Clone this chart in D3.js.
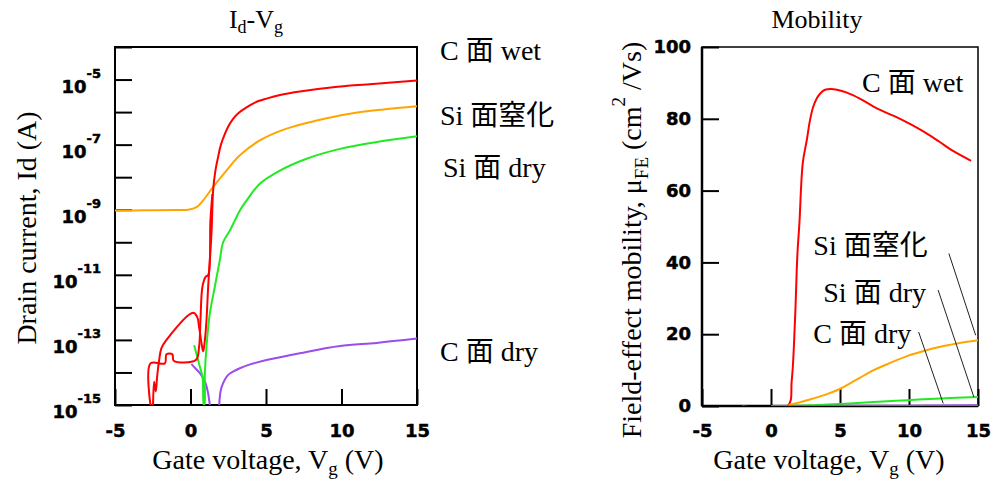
<!DOCTYPE html>
<html>
<head>
<meta charset="utf-8">
<script src="https://cdn.jsdelivr.net/npm/d3@7"></script>
<style>
  body { margin: 0; background: #fff; }
  .serif { font-family: "Liberation Serif", "Noto Sans CJK JP", serif; fill: #000; }
  .num { font-family: "DejaVu Sans", sans-serif; font-weight: bold; font-size: 18px; fill: #000;
         stroke: #000; stroke-width: 0.5px; }
</style>
</head>
<body>
<div id="chart"></div>
<script>
// gate voltage (V) vs drain current (A)
const idCwet = [
  [-2.48, 1e-15], [-2.41, 5.2e-15], [-2.30, 2.6e-15], [-2.21, 7.4e-15], [-2.08, 2.3e-14],
  [-1.93, 5.5e-14], [-1.59, 1.0e-13], [0.17, 6.8e-13], [0.44, 5.1e-13], [0.57, 2.5e-13],
  [0.73, 7.8e-14], [0.84, 4.4e-14], [0.95, 9.8e-14], [1.06, 4.1e-13], [1.17, 4.3e-12],
  [1.39, 1.9e-10], [1.5, 4.0e-9], [1.65, 1.6e-8], [1.83, 4.2e-8], [2.0, 9.5e-8],
  [2.27, 2.1e-7], [2.5, 3.6e-7], [2.82, 6.2e-7], [3.2, 9.5e-7], [3.71, 1.4e-6],
  [4.3, 2.0e-6], [5.03, 2.6e-6], [6.0, 3.4e-6], [7.24, 4.3e-6], [9.44, 5.8e-6],
  [11.66, 7.1e-6], [15, 9.3e-6]
];
const idCwetRev = [
  [-2.65, 1e-15], [-2.65, 1.9e-14], [-1.70, 1.9e-14], [-1.59, 3.6e-14], [-1.20, 3.6e-14],
  [-1.11, 2.3e-14], [0.35, 2.4e-14], [0.57, 6.2e-14], [0.66, 4.1e-13], [0.79, 4.3e-12],
  [1.00, 8.7e-12], [1.17, 9.8e-12], [1.32, 4.7e-10], [1.45, 3.0e-9]
];
const idSiNit = [
  [-5, 9.5e-10], [-3, 9.6e-10], [-1, 9.8e-10], [-0.16, 1.0e-9], [0.40, 1.2e-9], [0.84, 1.95e-9],
  [1.50, 5.0e-9], [2.38, 1.6e-8], [3.27, 4.7e-8], [4.59, 1.35e-7], [6.36, 3.1e-7],
  [8.35, 5.5e-7], [10.56, 8.9e-7], [12.78, 1.2e-6], [15, 1.5e-6]
];
const idSiDry = [
  [0.24, 6.9e-14], [0.45, 3.0e-14], [0.62, 1.5e-14], [0.80, 7.0e-15], [0.88, 1e-15],
  [0.92, 1e-15], [0.95, 9.3e-15], [1.06, 6.2e-14], [1.28, 6.5e-13], [1.61, 4.3e-12],
  [1.94, 2.8e-11], [2.16, 1.0e-10], [2.61, 2.3e-10], [2.94, 4.7e-10], [3.27, 9.5e-10],
  [3.71, 1.9e-9], [4.59, 6.3e-9], [5.92, 1.6e-8], [7.69, 3.7e-8], [9.90, 7.4e-8],
  [12.33, 1.2e-7], [15, 1.8e-7]
];
const idCdry = [
  [0.06, 1.8e-14], [0.35, 1.3e-14], [0.62, 9.5e-15], [0.85, 6.5e-15], [1.0, 4.6e-15],
  [1.15, 2.5e-15], [1.28, 1e-15], [1.6, null],
  [1.90, 1e-15], [2.0, 2.8e-15], [2.16, 4.7e-15], [2.4, 7.5e-15], [2.61, 9.3e-15],
  [3.27, 1.35e-14], [4.0, 1.8e-14], [5.03, 2.4e-14], [7.24, 3.9e-14], [9.90, 6.5e-14],
  [12.33, 8.1e-14], [15, 1.1e-13]
];

// gate voltage (V) vs field-effect mobility (cm2/Vs), right panel
const muCwet = [
  [-2.1, 0], [1.2, 0], [1.5, 7], [1.74, 24], [1.91, 42], [2.06, 51], [2.3, 67.6], [2.59, 74],
  [2.83, 79.7], [3.05, 83.2], [3.32, 85.7], [3.6, 87.2], [3.92, 88.1], [4.35, 88.3],
  [4.77, 88.1], [5.5, 87.3], [6.5, 85.5], [7.43, 83.4], [8.3, 81.8], [9.13, 80.4],
  [10.1, 78.5], [11.07, 76.4], [12.2, 73.6], [13.25, 70.9], [14.5, 68.3]
];
const muSiNit = [
  [1.28, 0.2], [2.61, 1.6], [4.06, 3.3], [5.02, 4.8], [6.23, 7.4], [7.44, 10.0], [8.64, 12.0],
  [9.86, 13.9], [11.06, 15.3], [12.27, 16.5], [13.48, 17.4], [15, 18.3]
];
const muSiDry = [[1.5, 0], [4.17, 0.4], [7.44, 1.1], [9.86, 1.6], [12.27, 2.1], [15, 2.5]];
const muCdry = [[0, 0], [5, 0.05], [10, 0.1], [15, 0.2]];

const xTicks = [-5, 0, 5, 10, 15];
const idTicks = [1e-15, 1e-14, 1e-13, 1e-12, 1e-11, 1e-10, 1e-9, 1e-8, 1e-7, 1e-6, 1e-5, 1e-4];
const idLabels = [1e-15, 1e-13, 1e-11, 1e-9, 1e-7, 1e-5];
const muTicks = [0, 20, 40, 60, 80, 100];

const colors = { cwet: "#ff0000", sinit: "#ffa500", sidry: "#22ea22", cdry: "#9a4ced" };

const width = 994, height = 498;

const svg = d3.select("#chart").append("svg")
  .attr("width", width)
  .attr("height", height)
  .style("background", "#fff");

// ---------- left panel: Id-Vg ----------
const xL = d3.scaleLinear().domain([-5, 15]).range([115, 417]);
const yL = d3.scaleLog().domain([1e-15, 1e-4]).range([405, 47]).clamp(true);

const defs = svg.append("defs");
defs.append("clipPath").attr("id", "clipL")
  .append("rect").attr("x", 115).attr("y", 47).attr("width", 302).attr("height", 358);
defs.append("clipPath").attr("id", "clipR")
  .append("rect").attr("x", 702).attr("y", 47).attr("width", 276).attr("height", 359);

const gxL = svg.append("g").attr("transform", "translate(0,405)")
  .call(d3.axisBottom(xL).tickValues(xTicks).tickSizeInner(-16).tickSizeOuter(0).tickPadding(19)
    .tickFormat(d => d));
const gyL = svg.append("g").attr("transform", "translate(115,0)")
  .call(d3.axisLeft(yL).tickValues(idTicks).tickSizeInner(-17).tickSizeOuter(0).tickFormat(""));

[gxL, gyL].forEach(g => {
  g.selectAll("line").attr("stroke", "#000").attr("stroke-width", 2);
  g.select(".domain").remove();
});

const idLab = svg.append("g").selectAll("text")
  .data(idLabels).enter().append("text")
  .attr("class", "num")
  .attr("text-anchor", "end")
  .attr("x", 101)
  .attr("y", d => yL(d) + 13);
idLab.append("tspan").text("10");
idLab.append("tspan").attr("dy", -15).style("font-size", "13px")
  .text(d => "-" + Math.round(-Math.log10(d)));

svg.append("rect").attr("x", 115).attr("y", 47).attr("width", 302).attr("height", 358)
  .attr("fill", "none").attr("stroke", "#000").attr("stroke-width", 2);

const lineL = d3.line().defined(d => d[1] != null).x(d => xL(d[0])).y(d => yL(d[1]))
  .curve(d3.curveCatmullRom.alpha(0.5));
const plotL = svg.append("g").attr("clip-path", "url(#clipL)");
[[idCdry, colors.cdry], [idSiNit, colors.sinit], [idSiDry, colors.sidry],
 [idCwetRev, colors.cwet], [idCwet, colors.cwet]].forEach(([data, c]) => {
  plotL.append("path").datum(data).attr("d", lineL)
    .attr("fill", "none").attr("stroke", c).attr("stroke-width", 2).attr("stroke-linejoin", "round");
});

// ---------- right panel: mobility ----------
const xR = d3.scaleLinear().domain([-5, 15]).range([702, 978]);
const yR = d3.scaleLinear().domain([0, 100]).range([406, 47]);

const gxR = svg.append("g").attr("transform", "translate(0,406)")
  .call(d3.axisBottom(xR).tickValues(xTicks).tickSizeInner(-17).tickSizeOuter(0).tickPadding(18)
    .tickFormat(d => d));
const gyR = svg.append("g").attr("transform", "translate(702,0)")
  .call(d3.axisLeft(yR).tickValues(muTicks).tickSizeInner(-17).tickSizeOuter(0).tickPadding(11)
    .tickFormat(d => d));
[gxR, gyR].forEach(g => {
  g.selectAll("line").attr("stroke", "#000").attr("stroke-width", 2);
  g.select(".domain").remove();
});
svg.selectAll(".tick text").attr("class", "num").attr("fill", "#000");

svg.append("rect").attr("x", 702).attr("y", 47).attr("width", 276).attr("height", 359)
  .attr("fill", "none").attr("stroke", "#000").attr("stroke-width", 1.5);
svg.append("line").attr("x1", 702).attr("x2", 702).attr("y1", 47).attr("y2", 406)
  .attr("stroke", "#000").attr("stroke-width", 2.5);
svg.append("line").attr("x1", 702).attr("x2", 978).attr("y1", 406).attr("y2", 406)
  .attr("stroke", "#000").attr("stroke-width", 2.5);

const lineR = d3.line().x(d => xR(d[0])).y(d => yR(d[1])).curve(d3.curveCatmullRom.alpha(0.5));
const plotR = svg.append("g").attr("clip-path", "url(#clipR)");
[[muCwet, colors.cwet], [muSiNit, colors.sinit], [muSiDry, colors.sidry], [muCdry, colors.cdry]]
  .forEach(([data, c]) => {
    plotR.append("path").datum(data).attr("d", lineR)
      .attr("fill", "none").attr("stroke", c).attr("stroke-width", 2).attr("stroke-linejoin", "round");
  });

// leader lines from labels to curves (V, mu)
const leaders = [
  [[12.89, 42.5], [14.83, 19.7]],
  [[12.11, 32.3], [14.70, 2.5]],
  [[10.70, 20.6], [12.48, 0.7]]
];
svg.append("g").selectAll("line").data(leaders).enter().append("line")
  .attr("x1", d => xR(d[0][0])).attr("y1", d => yR(d[0][1]))
  .attr("x2", d => xR(d[1][0])).attr("y2", d => yR(d[1][1]))
  .attr("stroke", "#222").attr("stroke-width", 1);

// ---------- texts ----------
const sampleNames = ["C 面 wet", "Si 面窒化", "Si 面 dry", "C 面 dry"];

const leftNames = [[sampleNames[0], 4.0e-5, 0], [sampleNames[1], 4.0e-7, 0],
                   [sampleNames[2], 1.0e-8, 3], [sampleNames[3], 2.2e-14, 0]];
svg.append("g").selectAll("text").data(leftNames).enter().append("text")
  .attr("class", "serif").style("font-size", "28px")
  .attr("x", d => xL(15) + 23 + d[2]).attr("y", d => yL(d[1]))
  .text(d => d[0]);

const rightNames = [[sampleNames[0], 13.93, 87.5, "end"], [sampleNames[1], 3.07, 42.0, "start"],
                    [sampleNames[2], 3.79, 28.9, "start"], [sampleNames[3], 3.07, 17.5, "start"]];
svg.append("g").selectAll("text").data(rightNames).enter().append("text")
  .attr("class", "serif").style("font-size", "28px")
  .attr("text-anchor", d => d[3])
  .attr("x", d => xR(d[1])).attr("y", d => yR(d[2]))
  .text(d => d[0]);

// titles
const t1 = svg.append("text").attr("class", "serif").style("font-size", "26px")
  .attr("x", 256).attr("y", 28).attr("text-anchor", "middle");
t1.append("tspan").text("I");
t1.append("tspan").attr("dy", 5).style("font-size", "18px").text("d");
t1.append("tspan").attr("dy", -5).text("-V");
t1.append("tspan").attr("dy", 5).style("font-size", "18px").text("g");

svg.append("text").attr("class", "serif").style("font-size", "26px")
  .attr("x", 817).attr("y", 28).attr("text-anchor", "middle").text("Mobility");

// x titles
[268, 829].forEach(x => {
  const t = svg.append("text").attr("class", "serif").style("font-size", "28px")
    .attr("x", x).attr("y", 469).attr("text-anchor", "middle");
  t.append("tspan").text("Gate voltage, V");
  t.append("tspan").attr("dy", 6).style("font-size", "19px").text("g");
  t.append("tspan").attr("dy", -6).text(" (V)");
});

// y titles
svg.append("text").attr("class", "serif").style("font-size", "28px")
  .attr("transform", "translate(36,228) rotate(-90)").attr("text-anchor", "middle")
  .text("Drain current, Id (A)");

const ty = svg.append("text").attr("class", "serif").style("font-size", "28px")
  .attr("transform", "translate(641,240) rotate(-90)").attr("text-anchor", "middle");
ty.append("tspan").text("Field-effect mobility, μ");
ty.append("tspan").attr("dy", 7).style("font-size", "19px").text("FE");
ty.append("tspan").attr("dy", -7).text(" (cm");
ty.append("tspan").attr("dy", -16).style("font-size", "19px").text("2");
ty.append("tspan").attr("dy", 16).text(" /Vs)");
</script>
</body>
</html>
